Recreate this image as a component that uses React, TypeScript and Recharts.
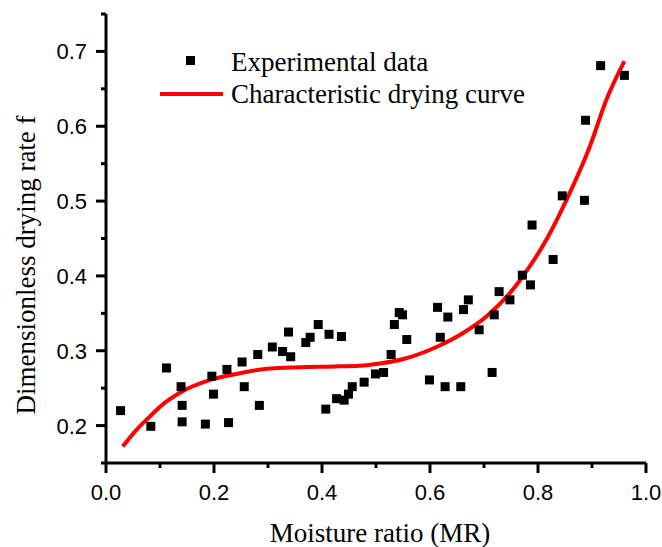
import React from 'react';
import { ComposedChart, Scatter, Line, XAxis, YAxis, Legend } from 'recharts';

// experimental points
const mrValues = [
  0.027, 0.083, 0.112, 0.139, 0.141, 0.141, 0.184, 0.199, 0.196, 0.227,
  0.224, 0.252, 0.256, 0.281, 0.284, 0.308, 0.327, 0.342, 0.338, 0.37,
  0.378, 0.393, 0.413, 0.436, 0.407, 0.427, 0.441, 0.449, 0.456, 0.478,
  0.499, 0.514, 0.528, 0.534, 0.543, 0.549, 0.557, 0.599, 0.614, 0.619,
  0.628, 0.633, 0.657, 0.662, 0.671, 0.691, 0.715, 0.719, 0.728, 0.748,
  0.771, 0.786, 0.789, 0.828, 0.845, 0.886, 0.888, 0.916, 0.96,
];
const rateValues = [
  0.22, 0.199, 0.277, 0.252, 0.227, 0.205, 0.202, 0.242, 0.266, 0.204,
  0.275, 0.285, 0.252, 0.295, 0.227, 0.305, 0.299, 0.292, 0.325, 0.311,
  0.318, 0.335, 0.322, 0.319, 0.222, 0.236, 0.234, 0.242, 0.252, 0.258,
  0.269, 0.271, 0.295, 0.335, 0.351, 0.348, 0.315, 0.261, 0.358, 0.318,
  0.252, 0.345, 0.252, 0.355, 0.368, 0.328, 0.271, 0.348, 0.379, 0.368,
  0.401, 0.388, 0.468, 0.422, 0.507, 0.501, 0.608, 0.681, 0.668,
];

// fitted curve
const curveMr = [
  0.031, 0.056, 0.081, 0.108, 0.137, 0.193, 0.248, 0.298, 0.359, 0.421, 0.47,
  0.507, 0.551, 0.612, 0.662, 0.705, 0.748, 0.785, 0.816, 0.853, 0.896, 0.927,
  0.96,
];
const curveRate = [
  0.172, 0.194, 0.212, 0.23, 0.244, 0.261, 0.27, 0.276, 0.278, 0.279, 0.28,
  0.283, 0.289, 0.305, 0.324, 0.346, 0.377, 0.413, 0.449, 0.502, 0.573, 0.636,
  0.687,
];

const xTicks = [0, 0.1, 0.2, 0.3, 0.4, 0.5, 0.6, 0.7, 0.8, 0.9, 1.0];
const xMajor = [0, 0.2, 0.4, 0.6, 0.8, 1.0];
const yTicks = [0.15, 0.2, 0.25, 0.3, 0.35, 0.4, 0.45, 0.5, 0.55, 0.6, 0.65, 0.7, 0.75];
const yMajor = [0.2, 0.3, 0.4, 0.5, 0.6, 0.7];

const legendLabels = ['Experimental data', 'Characteristic drying curve'];
const xTitle = 'Moisture ratio (MR)';
const yTitle = 'Dimensionless drying rate f';

const points = mrValues.map((mr, i) => ({ mr, rate: rateValues[i] }));
const curve = curveMr.map((mr, i) => ({ mr, rate: curveRate[i] }));

const SANS = 'Liberation Sans, Arial, sans-serif';
const SERIF = 'Liberation Serif, Times New Roman, serif';

const XTick = (props: any) => {
  const { x, y, payload } = props;
  const major = xMajor.includes(payload.value);
  return (
    <g>
      <line x1={x} x2={x} y1={y} y2={y + (major ? 10 : 5)} stroke="#000" strokeWidth={3} />
      {major && (
        <text x={x} y={y + 37} textAnchor="middle" fontFamily={SANS} fontSize={22} fill="#000">
          {payload.value.toFixed(1)}
        </text>
      )}
    </g>
  );
};

const YTick = (props: any) => {
  const { x, y, payload } = props;
  const major = yMajor.includes(payload.value);
  return (
    <g>
      <line x1={x} x2={x - (major ? 10 : 5)} y1={y} y2={y} stroke="#000" strokeWidth={3} />
      {major && (
        <text x={x - 19} y={y + 8} textAnchor="end" fontFamily={SANS} fontSize={22} fill="#000">
          {payload.value.toFixed(1)}
        </text>
      )}
    </g>
  );
};

const Square = (props: any) => {
  const { cx, cy } = props;
  return <rect x={cx - 4.5} y={cy - 4.5} width={9} height={9} fill="#000" />;
};

const renderLegend = () => (
  <svg width={662} height={120}>
    <rect x={186} y={56} width={9} height={9} fill="#000" />
    <text x={231} y={71} fontFamily={SERIF} fontSize={27} fill="#000">
      {legendLabels[0]}
    </text>
    <line x1={160} x2={223} y1={94} y2={94} stroke="#ff0000" strokeWidth={4} />
    <text x={231} y={103} fontFamily={SERIF} fontSize={27} fill="#000">
      {legendLabels[1]}
    </text>
  </svg>
);

const XTitle = (props: any) => {
  const { viewBox } = props;
  return (
    <text
      x={viewBox.x + viewBox.width / 2 + 4}
      y={viewBox.y + 79}
      textAnchor="middle"
      fontFamily={SERIF}
      fontSize={27}
      fill="#000"
    >
      {xTitle}
    </text>
  );
};

const YTitle = () => (
  <text
    x={35}
    y={265}
    transform="rotate(-90 35 265)"
    textAnchor="middle"
    fontFamily={SERIF}
    fontSize={27}
    fill="#000"
  >
    {yTitle}
  </text>
);

export default function App() {
  return (
    <div style={{ position: 'absolute', left: 0, top: 0, background: '#fff' }}>
      <ComposedChart
        width={662}
        height={547}
        margin={{ top: 14, right: 16, bottom: 0, left: 0 }}
      >
        <XAxis
          type="number"
          dataKey="mr"
          domain={[0, 1]}
          ticks={xTicks}
          interval={0}
          height={84}
          tickSize={0}
          tickMargin={0}
          tickLine={false}
          tick={<XTick />}
          axisLine={{ stroke: '#000', strokeWidth: 3 }}
          allowDataOverflow
          label={<XTitle />}
        />
        <YAxis
          type="number"
          dataKey="rate"
          domain={[0.15, 0.75]}
          ticks={yTicks}
          interval={0}
          width={106}
          tickSize={0}
          tickMargin={0}
          tickLine={false}
          tick={<YTick />}
          axisLine={{ stroke: '#000', strokeWidth: 3 }}
          allowDataOverflow
          label={<YTitle />}
        />
        <Legend
          layout="vertical"
          align="center"
          verticalAlign="middle"
          content={renderLegend}
          wrapperStyle={{ left: 0, top: 0, width: 662, height: 120 }}
        />
        <Scatter
          name={legendLabels[0]}
          data={points}
          dataKey="rate"
          shape={<Square />}
          isAnimationActive={false}
        />
        <Line
          name={legendLabels[1]}
          data={curve}
          dataKey="rate"
          type="monotone"
          stroke="#ff0000"
          strokeWidth={4}
          dot={false}
          activeDot={false}
          isAnimationActive={false}
        />
      </ComposedChart>
    </div>
  );
}
